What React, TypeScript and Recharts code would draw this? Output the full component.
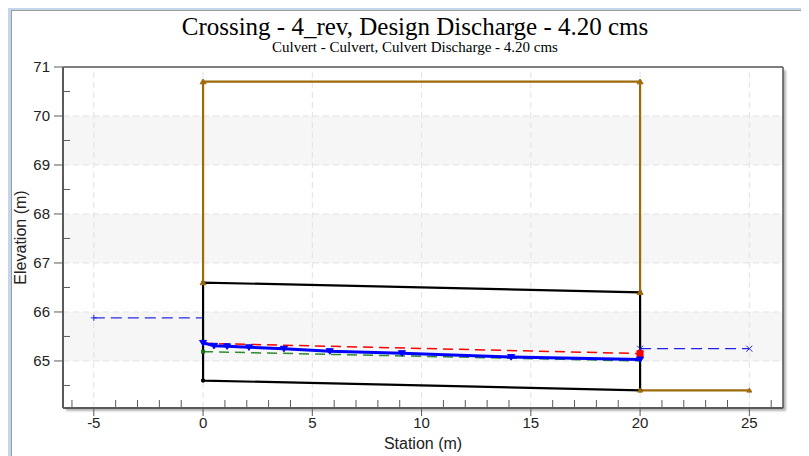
import React from "react";
import {
  ComposedChart,
  Line,
  XAxis,
  YAxis,
  ReferenceArea,
  ReferenceLine,
} from "recharts";

// station / elevation pairs
const roadX = [0, 0, 20, 20];
const roadY = [66.6, 70.7, 70.7, 66.4];
const channelX = [20, 25];
const channelY = [64.4, 64.4];
const culvertX = [0, 0, 20, 20, 0];
const culvertY = [64.6, 66.6, 66.4, 64.4, 64.6];
const headwaterX = [-5, 0];
const headwaterY = [65.88, 65.88];
const tailwaterX = [20, 25];
const tailwaterY = [65.25, 65.25];
const wslX = [0, 0.5, 1.1, 2.1, 3.7, 5.8, 9.1, 14.1, 20];
const wslY = [65.37, 65.31, 65.3, 65.28, 65.25, 65.2, 65.16, 65.08, 65.03];
const criticalX = [0, 20];
const criticalY = [65.36, 65.15];
const normalX = [0, 20];
const normalY = [65.19, 65.0];

const xTicks = [-6, -5, -4, -3, -2, -1, 0, 1, 2, 3, 4, 5, 6, 7, 8, 9, 10, 11, 12, 13, 14, 15, 16, 17, 18, 19, 20, 21, 22, 23, 24, 25, 26];
const xMajor = [-5, 0, 5, 10, 15, 20, 25];
const yTicks = [64.5, 65, 65.5, 66, 66.5, 67, 67.5, 68, 68.5, 69, 69.5, 70, 70.5, 71];
const yMajor = [65, 66, 67, 68, 69, 70];
const bands = [[65, 66], [67, 68], [69, 70]];

const X_MIN = -6.41;
const X_MAX = 26.54;
const Y_MIN = 64.04;
const Y_MAX = 71;

const pts = (xs: number[], ys: number[]) => xs.map((x, i) => ({ x, y: ys[i] }));

const BROWN = "#9e6b0b";
const AXIS = "#5a5a5a";
const tickFont = "'Liberation Sans', Arial, sans-serif";

const XTick = (props: any) => {
  const { x, y, payload } = props;
  const major = xMajor.includes(payload.value);
  return (
    <g>
      <line x1={x} x2={x} y1={y} y2={major ? y + 8 : y - 8} stroke={AXIS} strokeWidth={1} />
      {major && (
        <text x={x} y={y + 20} textAnchor="middle" fontSize={15} fontFamily={tickFont} fill="#222">
          {payload.value}
        </text>
      )}
    </g>
  );
};

const YTick = (props: any) => {
  const { x, y, payload } = props;
  const major = Number.isInteger(payload.value);
  return (
    <g>
      <line x1={major ? x - 9 : x} x2={major ? x : x + 7} y1={y} y2={y} stroke={AXIS} strokeWidth={1} />
      {major && (
        <text x={x - 13} y={y + 5} textAnchor="end" fontSize={15} fontFamily={tickFont} fill="#222">
          {payload.value}
        </text>
      )}
    </g>
  );
};

const tri = (color: string, size: number, down = false) => (p: any) => {
  const { cx, cy, index } = p;
  if (cx == null || cy == null) return <g key={index} />;
  const s = size;
  const d = down
    ? `M${cx - s},${cy - s * 0.7} L${cx + s},${cy - s * 0.7} L${cx},${cy + s * 0.9} Z`
    : `M${cx - s},${cy + s * 0.7} L${cx + s},${cy + s * 0.7} L${cx},${cy - s * 0.9} Z`;
  return <path key={index} d={d} fill={color} stroke={color} />;
};

const blackDot = (p: any) => {
  const { cx, cy, index } = p;
  return <circle key={index} cx={cx} cy={cy} r={2} fill="#000" />;
};

const plusMark = (p: any) => {
  const { cx, cy, index } = p;
  if (index !== 0) return <g key={index} />;
  return (
    <g key={index} stroke="#2a2ae0" strokeWidth={1}>
      <line x1={cx - 3} x2={cx + 3} y1={cy} y2={cy} />
      <line x1={cx} x2={cx} y1={cy - 3} y2={cy + 3} />
    </g>
  );
};

const crossMark = (p: any) => {
  const { cx, cy, index } = p;
  return (
    <g key={index} stroke="#2020e8" strokeWidth={1}>
      <line x1={cx - 3} x2={cx + 3} y1={cy - 3} y2={cy + 3} />
      <line x1={cx - 3} x2={cx + 3} y1={cy + 3} y2={cy - 3} />
    </g>
  );
};

const redSquare = (p: any) => {
  const { cx, cy, index } = p;
  if (index !== criticalX.length - 1) return <g key={index} />;
  return <rect key={index} x={cx - 3.5} y={cy - 3.5} width={7} height={7} fill="#ff0000" />;
};

const greenDot = (p: any) => {
  const { cx, cy, index } = p;
  if (index !== 0) return <g key={index} />;
  return <rect key={index} x={cx - 2} y={cy - 2} width={4} height={4} fill="#1a6e1a" />;
};

export default function App() {
  return (
    <div style={{ position: "relative", width: 801, height: 448 }}>
      {/* window frame */}
      <div style={{ position: "absolute", left: 0, top: 0, width: 801, height: 2, background: "#c3d6ec" }} />
      <div style={{ position: "absolute", left: 0, top: 2, width: 801, height: 1, background: "#9a9a9a" }} />
      <div style={{ position: "absolute", left: 0, top: 0, width: 3, height: 448, background: "#c3d6ec" }} />
      <div style={{ position: "absolute", left: 3, top: 2, width: 1, height: 446, background: "#9a9a9a" }} />
      {/* plot area with shadow */}
      <div
        style={{
          position: "absolute",
          left: 55,
          top: 59,
          width: 720,
          height: 341,
          background: "#fff",
          boxShadow: "3px 3px 2px #b5b5b5",
        }}
      />
      <div
        style={{
          position: "absolute",
          left: 0,
          width: 814,
          top: 5,
          textAlign: "center",
          fontFamily: "'Liberation Serif', 'Times New Roman', serif",
          fontSize: 25,
          lineHeight: "28px",
          color: "#000",
        }}
      >
        Crossing - 4_rev, Design Discharge - 4.20 cms
      </div>
      <div
        style={{
          position: "absolute",
          left: 0,
          width: 814,
          top: 31,
          textAlign: "center",
          fontFamily: "'Liberation Serif', 'Times New Roman', serif",
          fontSize: 15,
          lineHeight: "16px",
          color: "#000",
        }}
      >
        Culvert - Culvert, Culvert Discharge - 4.20 cms
      </div>
      <div style={{ position: "absolute", left: 0, top: 0 }}>
        <ComposedChart width={801} height={448} margin={{ top: 59, right: 26, bottom: 0, left: 0 }}>
          {bands.map(([a, b]) => (
            <ReferenceArea key={a} y1={a} y2={b} fill="#f6f6f6" fillOpacity={1} stroke="none" ifOverflow="hidden" />
          ))}
          {xMajor.map((v) => (
            <ReferenceLine key={"gx" + v} x={v} stroke="#e2e2e2" strokeDasharray="6 4" />
          ))}
          {yMajor.map((v) => (
            <ReferenceLine key={"gy" + v} y={v} stroke="#e2e2e2" strokeDasharray="6 4" />
          ))}
          <ReferenceLine y={Y_MAX} stroke="#555" strokeWidth={1.5} />
          <ReferenceLine x={X_MAX} stroke="#555" strokeWidth={1.5} />
          <XAxis
            dataKey="x"
            type="number"
            domain={[X_MIN, X_MAX]}
            allowDataOverflow
            ticks={xTicks}
            interval={0}
            tickSize={0}
            tickMargin={0}
            tickLine={false}
            tick={<XTick />}
            height={48}
            axisLine={{ stroke: AXIS, strokeWidth: 2 }}
            label={{
              value: "Station (m)",
              position: "insideBottom",
              offset: 7,
              style: { fontSize: 16, fontFamily: tickFont, fill: "#222" },
            }}
          />
          <YAxis
            dataKey="y"
            type="number"
            domain={[Y_MIN, Y_MAX]}
            allowDataOverflow
            ticks={yTicks}
            interval={0}
            tickSize={0}
            tickMargin={0}
            tickLine={false}
            tick={<YTick />}
            width={55}
            axisLine={{ stroke: AXIS, strokeWidth: 2 }}
            label={{
              value: "Elevation (m)",
              angle: -90,
              position: "insideLeft",
              offset: 12,
              style: { textAnchor: "middle", fontSize: 16, fontFamily: tickFont, fill: "#222" },
            }}
          />
          <Line data={pts(headwaterX, headwaterY)} dataKey="y" stroke="#2a2ae0" strokeWidth={1.2} strokeDasharray="11 6" dot={plusMark} isAnimationActive={false} />
          <Line data={pts(tailwaterX, tailwaterY)} dataKey="y" stroke="#2020e8" strokeWidth={1.2} strokeDasharray="11 6" dot={crossMark} isAnimationActive={false} />
          <Line data={pts(normalX, normalY)} dataKey="y" stroke="#2f8a2f" strokeWidth={1.5} strokeDasharray="10 6" dot={greenDot} isAnimationActive={false} />
          <Line data={pts(criticalX, criticalY)} dataKey="y" stroke="#ff0000" strokeWidth={1.5} strokeDasharray="10 6" dot={redSquare} isAnimationActive={false} />
          <Line data={pts(wslX, wslY)} dataKey="y" stroke="#0000ff" strokeWidth={3} dot={tri("#0000ff", 3.5, true)} isAnimationActive={false} />
          <Line data={pts(culvertX, culvertY)} dataKey="y" stroke="#000" strokeWidth={2.2} dot={blackDot} isAnimationActive={false} />
          <Line data={pts(roadX, roadY)} dataKey="y" stroke={BROWN} strokeWidth={2.2} dot={tri(BROWN, 3)} isAnimationActive={false} />
          <Line data={pts(channelX, channelY)} dataKey="y" stroke={BROWN} strokeWidth={2.2} dot={tri(BROWN, 2.5)} isAnimationActive={false} />
        </ComposedChart>
      </div>
    </div>
  );
}
